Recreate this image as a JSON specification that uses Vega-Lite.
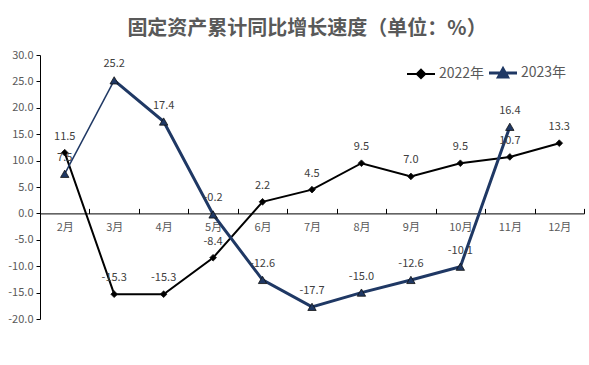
{
  "$schema": "https://vega.github.io/schema/vega-lite/v6.json",
  "autosize": {"type": "none"},
  "width": 544,
  "height": 264,
  "padding": {"left": 40, "top": 55, "right": 5, "bottom": 46},
  "background": "white",
  "title": {
    "text": "固定资产累计同比增长速度（单位：%）",
    "font": "Noto Sans CJK SC",
    "fontSize": 20,
    "fontWeight": 600,
    "color": "#595959",
    "anchor": "middle",
    "frame": "group",
    "dx": -5,
    "offset": 10
  },
  "config": {
    "view": {"stroke": null},
    "font": "Noto Sans CJK SC",
    "locale": {
      "number": {"decimal": ".", "thousands": ",", "grouping": [3], "currency": ["", ""], "minus": "-"}
    }
  },
  "data": {
    "values": [
      {"month": "2月", "series": "2022年", "value": 11.5},
      {"month": "3月", "series": "2022年", "value": -15.3},
      {"month": "4月", "series": "2022年", "value": -15.3},
      {"month": "5月", "series": "2022年", "value": -8.4},
      {"month": "6月", "series": "2022年", "value": 2.2},
      {"month": "7月", "series": "2022年", "value": 4.5},
      {"month": "8月", "series": "2022年", "value": 9.5},
      {"month": "9月", "series": "2022年", "value": 7.0},
      {"month": "10月", "series": "2022年", "value": 9.5},
      {"month": "11月", "series": "2022年", "value": 10.7},
      {"month": "12月", "series": "2022年", "value": 13.3},
      {"month": "2月", "series": "2023年", "value": 7.5},
      {"month": "3月", "series": "2023年", "value": 25.2},
      {"month": "4月", "series": "2023年", "value": 17.4},
      {"month": "5月", "series": "2023年", "value": -0.2},
      {"month": "6月", "series": "2023年", "value": -12.6},
      {"month": "7月", "series": "2023年", "value": -17.7},
      {"month": "8月", "series": "2023年", "value": -15.0},
      {"month": "9月", "series": "2023年", "value": -12.6},
      {"month": "10月", "series": "2023年", "value": -10.1},
      {"month": "11月", "series": "2023年", "value": 16.4}
    ]
  },
  "encoding": {
    "x": {
      "field": "month",
      "type": "nominal",
      "sort": ["2月", "3月", "4月", "5月", "6月", "7月", "8月", "9月", "10月", "11月", "12月"],
      "scale": {"type": "band", "paddingInner": 0, "paddingOuter": 0},
      "axis": {
        "title": null,
        "labelAngle": 0,
        "labelColor": "#595959",
        "labelFontSize": 11,
        "domainColor": "black",
        "domainWidth": 1,
        "tickColor": "black",
        "tickSize": -5,
        "tickBand": "extent",
        "labelPadding": 13,
        "offset": -105.6
      }
    },
    "y": {
      "field": "value",
      "type": "quantitative",
      "scale": {"domain": [-20, 30], "nice": false, "zero": false},
      "axis": {
        "title": null,
        "values": [-20, -15, -10, -5, 0, 5, 10, 15, 20, 25, 30],
        "format": ".1f",
        "grid": false,
        "labelColor": "#595959",
        "labelFontSize": 11,
        "domainColor": "black",
        "tickColor": "black",
        "tickSize": 4,
        "labelPadding": 3
      }
    },
    "color": {
      "field": "series",
      "type": "nominal",
      "scale": {"domain": ["2022年", "2023年"], "range": ["#000000", "#1F3864"]},
      "legend": {
        "title": null,
        "orient": "none",
        "legendX": 374,
        "legendY": 11,
        "direction": "horizontal",
        "symbolType": "M-1,0L1,0M-0.3,0L0,-0.3L0.3,0L0,0.3Z",
        "symbolSize": 784,
        "labelFontSize": 14,
        "labelColor": "#595959",
        "labelOffset": 11,
        "columnPadding": -2,
        "symbolStrokeWidth": 2,
        "encode": {
          "symbols": {
            "update": {
              "shape": {"signal": "datum.value === '2022年' ? 'M-1,0L1,0M-0.3,0L0,-0.3L0.3,0L0,0.3Z' : 'M-1,0L1,0M-0.32,0.27L0,-0.3L0.32,0.27Z'"},
              "fill": {"signal": "datum.value === '2022年' ? '#000000' : '#1F3864'"},
              "stroke": {"signal": "datum.value === '2022年' ? '#000000' : '#1F3864'"},
              "strokeWidth": {"signal": "datum.value === '2022年' ? 2 : 3"},
              "opacity": {"value": 1},
              "strokeOpacity": {"value": 1},
              "fillOpacity": {"value": 1}
            }
          }
        }
      }
    }
  },
  "layer": [
    {
      "transform": [{"filter": "datum.series === '2022年'"}],
      "mark": {"type": "line", "strokeWidth": 2},
      "encoding": {}
    },
    {
      "transform": [{"filter": "datum.series === '2023年' && (datum.month === '2月' || datum.month === '3月')"}],
      "mark": {"type": "line", "strokeWidth": 1.5},
      "encoding": {}
    },
    {
      "transform": [{"filter": "datum.series === '2023年' && datum.month !== '2月'"}],
      "mark": {"type": "line", "strokeWidth": 3},
      "encoding": {}
    },
    {
      "transform": [{"filter": "datum.series === '2022年'"}],
      "mark": {"type": "point", "shape": "diamond", "size": 45, "filled": true, "opacity": 1, "stroke": "#111111", "strokeWidth": 0.8},
      "encoding": {}
    },
    {
      "transform": [{"filter": "datum.series === '2023年'"}],
      "mark": {"type": "point", "shape": "triangle-up", "size": 70, "filled": true, "opacity": 1, "stroke": "#111111", "strokeWidth": 0.8},
      "encoding": {}
    },
    {
      "mark": {"type": "text", "dy": -16, "fontSize": 11, "baseline": "middle"},
      "encoding": {
        "text": {"field": "value", "type": "quantitative", "format": ".1f"},
        "color": {"value": "#404040"}
      }
    }
  ]
}
